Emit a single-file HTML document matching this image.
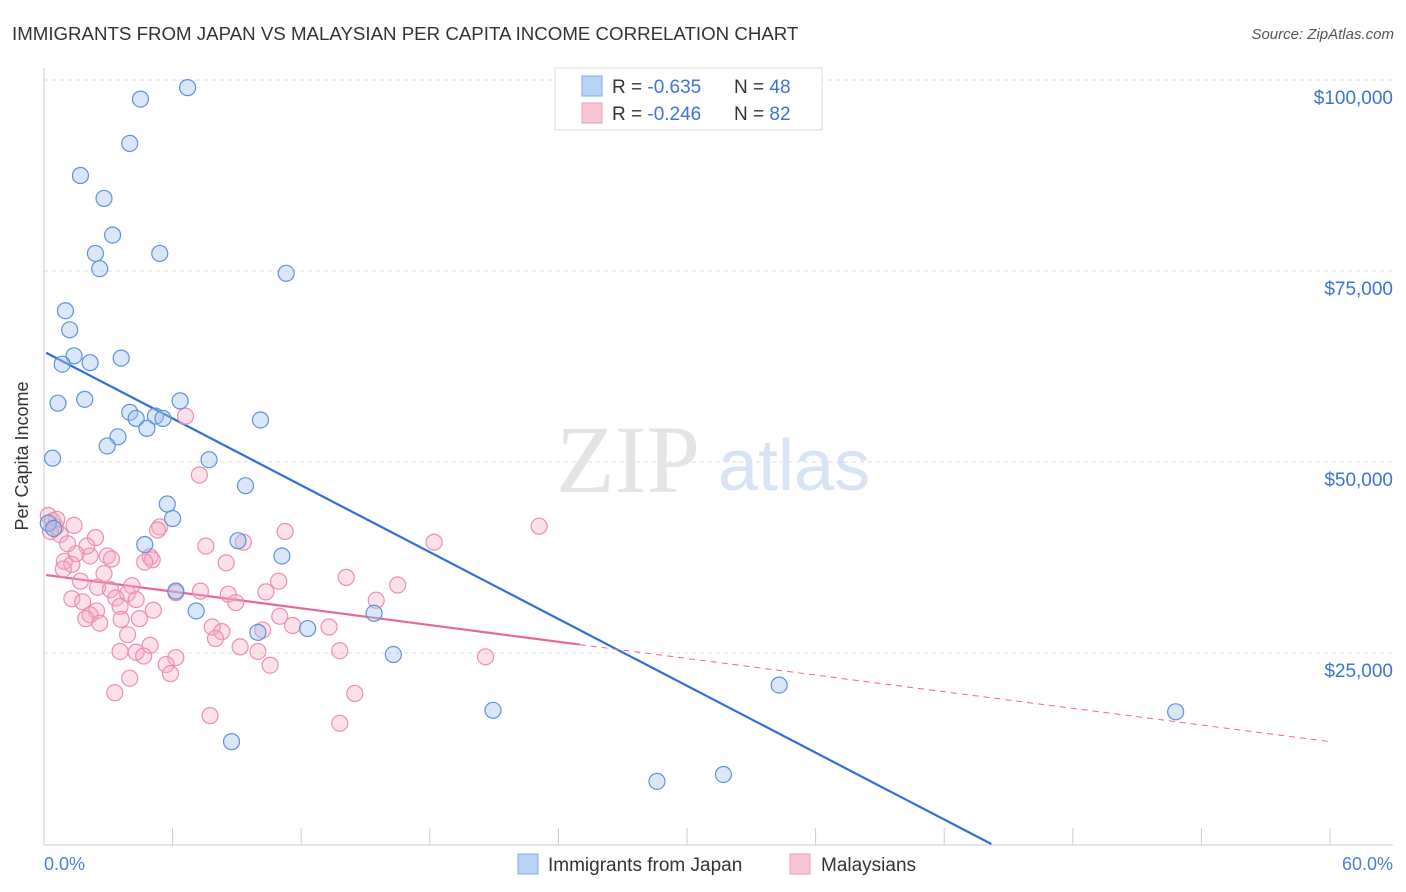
<!DOCTYPE html>
<html><head><meta charset="utf-8"><style>
body{margin:0;background:#fff;font-family:"Liberation Sans",sans-serif}
svg{display:block}
</style></head><body>
<svg width="1406" height="892" xmlns="http://www.w3.org/2000/svg">
<text x="12" y="40" font-size="18.7" fill="#333">IMMIGRANTS FROM JAPAN VS MALAYSIAN PER CAPITA INCOME CORRELATION CHART</text>
<text x="1394" y="39" font-size="15" fill="#555" text-anchor="end" font-style="italic">Source: ZipAtlas.com</text>
<g id="grid"></g>
<text x="700" y="492" font-size="96" fill="#e4e4e4" text-anchor="end" font-family="Liberation Serif">ZIP</text>
<text x="718" y="490" font-size="72" fill="#d6e4f5">atlas</text>
<line x1="44" y1="68" x2="44" y2="845" stroke="#ccc"/>
<line x1="44" y1="845" x2="1393" y2="845" stroke="#ccc"/>
<g id="ticks"></g>
<g id="lines"></g>
<g id="pts"></g>
<text x="28" y="456" font-size="18" fill="#333" text-anchor="middle" transform="rotate(-90 28 456)">Per Capita Income</text>
<text x="44" y="870" font-size="18" fill="#4a7fd4">0.0%</text>
<text x="1393" y="870" font-size="18" fill="#4a7fd4" text-anchor="end">60.0%</text>
<g>
<rect x="555" y="68" width="267" height="62" fill="#fff" stroke="#ddd"/>
<rect x="582" y="76" width="20" height="20" fill="#b9d3f5" stroke="#7fa8e0"/>
<rect x="582" y="103" width="20" height="20" fill="#f9c6d6" stroke="#e99ab5"/>
<text x="612" y="93" font-size="19" fill="#333">R = <tspan fill="#3b74d4">-0.635</tspan></text>
<text x="734" y="93" font-size="19" fill="#333">N = <tspan fill="#3b74d4">48</tspan></text>
<text x="612" y="120" font-size="19" fill="#333">R = <tspan fill="#3b74d4">-0.246</tspan></text>
<text x="734" y="120" font-size="19" fill="#333">N = <tspan fill="#3b74d4">82</tspan></text>
</g>
<g>
<rect x="518" y="854" width="20" height="20" fill="#b9d3f5" stroke="#7fa8e0"/>
<text x="548" y="871" font-size="19" fill="#333">Immigrants from Japan</text>
<rect x="790" y="854" width="20" height="20" fill="#f9c6d6" stroke="#e99ab5"/>
<text x="821" y="871" font-size="19" fill="#333">Malaysians</text>
</g>
</svg>
<script>
const yTicks=[25000,50000,75000,100000];
const yTickLabels=["$25,000","$50,000","$75,000","$100,000"];
const blueX=[6.7,4.5,4.0,1.7,2.8,3.2,2.4,5.4,2.6,11.3,1.0,1.2,1.4,3.6,0.85,2.15,0.65,1.9,6.35,4.0,4.3,5.2,5.55,4.8,10.1,3.45,2.95,7.7,0.4,9.4,5.75,6.0,0.2,0.45,9.05,4.7,11.1,6.15,7.1,15.4,12.3,9.98,16.3,34.3,20.95,52.8,8.75,31.7,28.6];
const blueY=[99000,97500,91700,87500,84500,79700,77300,77300,75300,74700,69800,67300,63900,63600,62800,63000,57700,58200,58000,56500,55700,56000,55700,54400,55500,53300,52100,50300,50500,46900,44500,42600,42000,41300,39700,39200,37700,33100,30500,30200,28200,27700,24800,20800,17500,17300,13400,9100,8200];
const pinkX=[0.2,0.4,0.55,0.3,0.75,1.4,2.4,1.1,2.15,2.95,3.15,0.95,1.3,2.8,1.7,4.1,3.9,2.5,3.1,3.35,1.3,1.8,3.55,2.45,2.15,4.3,5.1,1.95,2.6,3.6,4.45,3.9,5.4,5.3,6.6,7.25,4.95,5.05,7.55,4.7,11.25,9.3,8.5,7.3,6.15,8.6,8.95,10.95,10.35,11.0,7.85,8.3,8.0,10.2,11.6,9.15,4.95,3.55,4.3,4.65,6.15,5.7,9.98,10.55,4.0,5.9,3.3,7.75,13.8,14.5,13.8,14.1,15.5,16.5,13.3,18.2,23.1,20.6,2.0,0.6,1.5,0.9];
const pinkY=[43000,42300,41500,40900,40500,41700,40100,39300,37700,37700,37300,37000,36600,35400,34400,33800,32800,33600,33300,32200,32100,31700,31100,30500,30000,32000,30600,29500,28900,29400,29500,27400,41500,41100,56000,48300,37600,37200,39000,36900,40900,39500,36800,33100,32900,32700,31600,34400,33000,29800,28400,27800,26900,28000,28600,25800,26000,25200,25100,24600,24400,23500,25200,23400,21700,22300,19800,16800,15800,19700,25300,34900,31900,33900,28400,39500,41600,24500,39000,42500,38000,36000];
const X=v=>44+v/60*1286, Y=v=>844-v/100000*764;
const NS="http://www.w3.org/2000/svg";
function mk(t,a,p){const e=document.createElementNS(NS,t);for(const k in a)e.setAttribute(k,a[k]);document.getElementById(p).appendChild(e);return e;}
yTicks.forEach((t,i)=>{
 const l=mk('line',{x1:44,x2:1393,y1:Y(t),y2:Y(t),stroke:'#ddd','stroke-dasharray':'4 4'},'grid');
 
 
 const tx=mk('text',{x:1393,y:Y(t)+24,'font-size':19,fill:'#3b74d4','text-anchor':'end'},'grid');
 tx.textContent=yTickLabels[i];
 
 
});
for(let i=0;i<=10;i++){const l=mk('line',{x1:X(i*6),x2:X(i*6),y1:828,y2:845,stroke:'#ccc'},'ticks');
 
 }
let l=mk('line',{x1:X(0.1),y1:Y(64300),x2:X(44.2),y2:Y(0),stroke:'#2f6fd6','stroke-width':2.2},'lines');


l=mk('line',{x1:X(0.1),y1:Y(35200),x2:X(25),y2:Y(26100),stroke:'#e8688f','stroke-width':2.2},'lines');


l=mk('line',{x1:X(25),y1:Y(26100),x2:X(60),y2:Y(13400),stroke:'#e8688f','stroke-width':1,'stroke-dasharray':'6 5'},'lines');


pinkX.forEach((x,i)=>{const c=mk('circle',{cx:X(x),cy:Y(pinkY[i]),r:8,fill:'rgba(246,170,196,0.35)',stroke:'#ec8fae','stroke-width':1.2},'pts');
 
 });
blueX.forEach((x,i)=>{const c=mk('circle',{cx:X(x),cy:Y(blueY[i]),r:8,fill:'rgba(160,195,240,0.4)',stroke:'#5d92dc','stroke-width':1.2},'pts');
 
 });
</script>
</body></html>
